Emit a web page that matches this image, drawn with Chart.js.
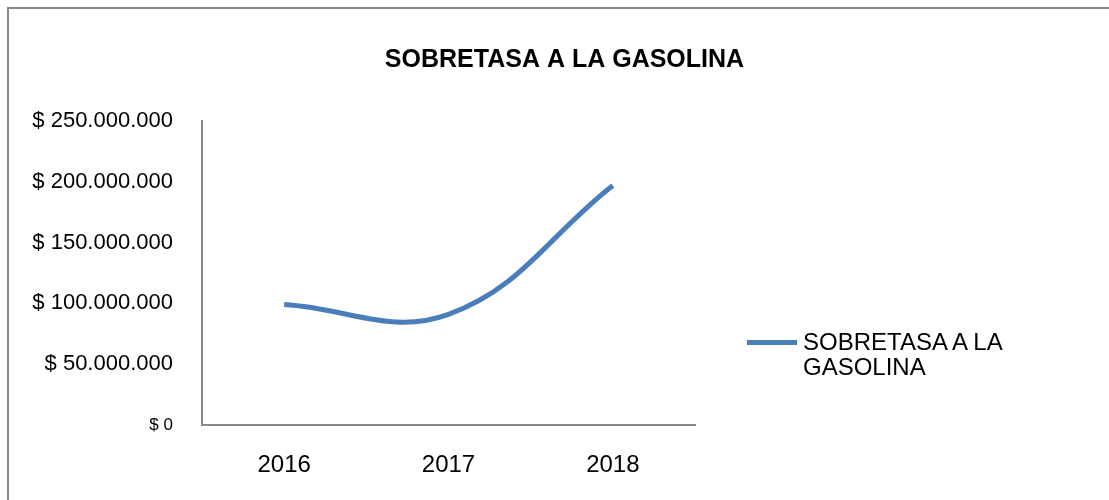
<!DOCTYPE html>
<html>
<head>
<meta charset="utf-8">
<script src="https://cdn.jsdelivr.net/npm/chart.js@4/dist/chart.umd.min.js"></script>
<style>
    body { margin: 0; background: #fff; font-family: "Liberation Sans", Arial, sans-serif; }
    #wrap { position: relative; width: 1109px; height: 500px; overflow: hidden; }
    #frame { position: absolute; left: 7px; top: 7px; width: 1110px; height: 520px; border: 2px solid #898989; box-sizing: border-box; }
    #legend { position: absolute; left: 747px; top: 329px; font-size: 24px; line-height: 25px; color: #000; }
    #legend .swatch { position: absolute; left: 0; top: 11px; width: 50px; height: 5px; }
    #legend .text { margin-left: 56px; width: 300px; }
</style>
</head>
<body>
<div id="wrap">
    <div id="frame"></div>
    <canvas id="chart" width="1109" height="500"></canvas>
    <div id="legend"></div>
</div>
<script>
    var years = ["2016", "2017", "2018"];
    var sobretasa = [99000000, 91000000, 197000000];
    var seriesName = "SOBRETASA A LA GASOLINA";
    var lineColor = "#4a7ebb";

    function pesos(v) {
        return "$ " + String(v).replace(/\B(?=(\d{3})+(?!\d))/g, ".");
    }

    // title centred over the whole picture, not just the plot
    var centerTitle = {
        id: "centerTitle",
        afterDraw: function (chart) {
            var c = chart.ctx;
            c.save();
            c.font = "bold 25px 'Liberation Sans'";
            c.fillStyle = "#000";
            c.textAlign = "center";
            c.textBaseline = "middle";
            c.fillText(seriesName, chart.width / 2 + 10, 60);
            c.restore();
        }
    };

    var ctx = document.getElementById("chart").getContext("2d");
    var chart = new Chart(ctx, {
        type: "line",
        data: {
            labels: years,
            datasets: [{
                label: seriesName,
                data: sobretasa,
                borderColor: lineColor,
                borderWidth: 5,
                tension: 0.4,
                pointRadius: 0,
                fill: false
            }]
        },
        plugins: [centerTitle],
        options: {
            responsive: false,
            animation: false,
            layout: { padding: { left: 30, right: 414, top: 121, bottom: 0 } },
            plugins: {
                legend: { display: false },
                tooltip: { enabled: false },
                title: { display: false }
            },
            scales: {
                x: {
                    offset: true,
                    grid: { display: false, drawTicks: false },
                    border: { color: "#898989", width: 2 },
                    ticks: { color: "#000", padding: 26, font: { family: "Liberation Sans", size: 24 } },
                    afterFit: function (s) { s.height = 75; }
                },
                y: {
                    min: 0,
                    max: 250000000,
                    grid: { display: false, drawTicks: false },
                    border: { color: "#898989", width: 2 },
                    ticks: {
                        stepSize: 50000000,
                        color: "#000",
                        padding: 29,
                        callback: function (v) { return pesos(v); },
                        font: function (c) {
                            return { family: "Liberation Sans", size: c.tick && c.tick.value === 0 ? 17 : 22 };
                        }
                    },
                    afterFit: function (s) { s.width = 172; }
                }
            }
        }
    });

    // legend with wrapped text, like the original
    var lg = document.getElementById("legend");
    chart.data.datasets.forEach(function (ds) {
        lg.innerHTML += '<div class="swatch" style="background:' + ds.borderColor + '"></div>' +
            '<div class="text">' + ds.label.replace("LA ", "LA<br>") + '</div>';
    });
</script>
</body>
</html>
